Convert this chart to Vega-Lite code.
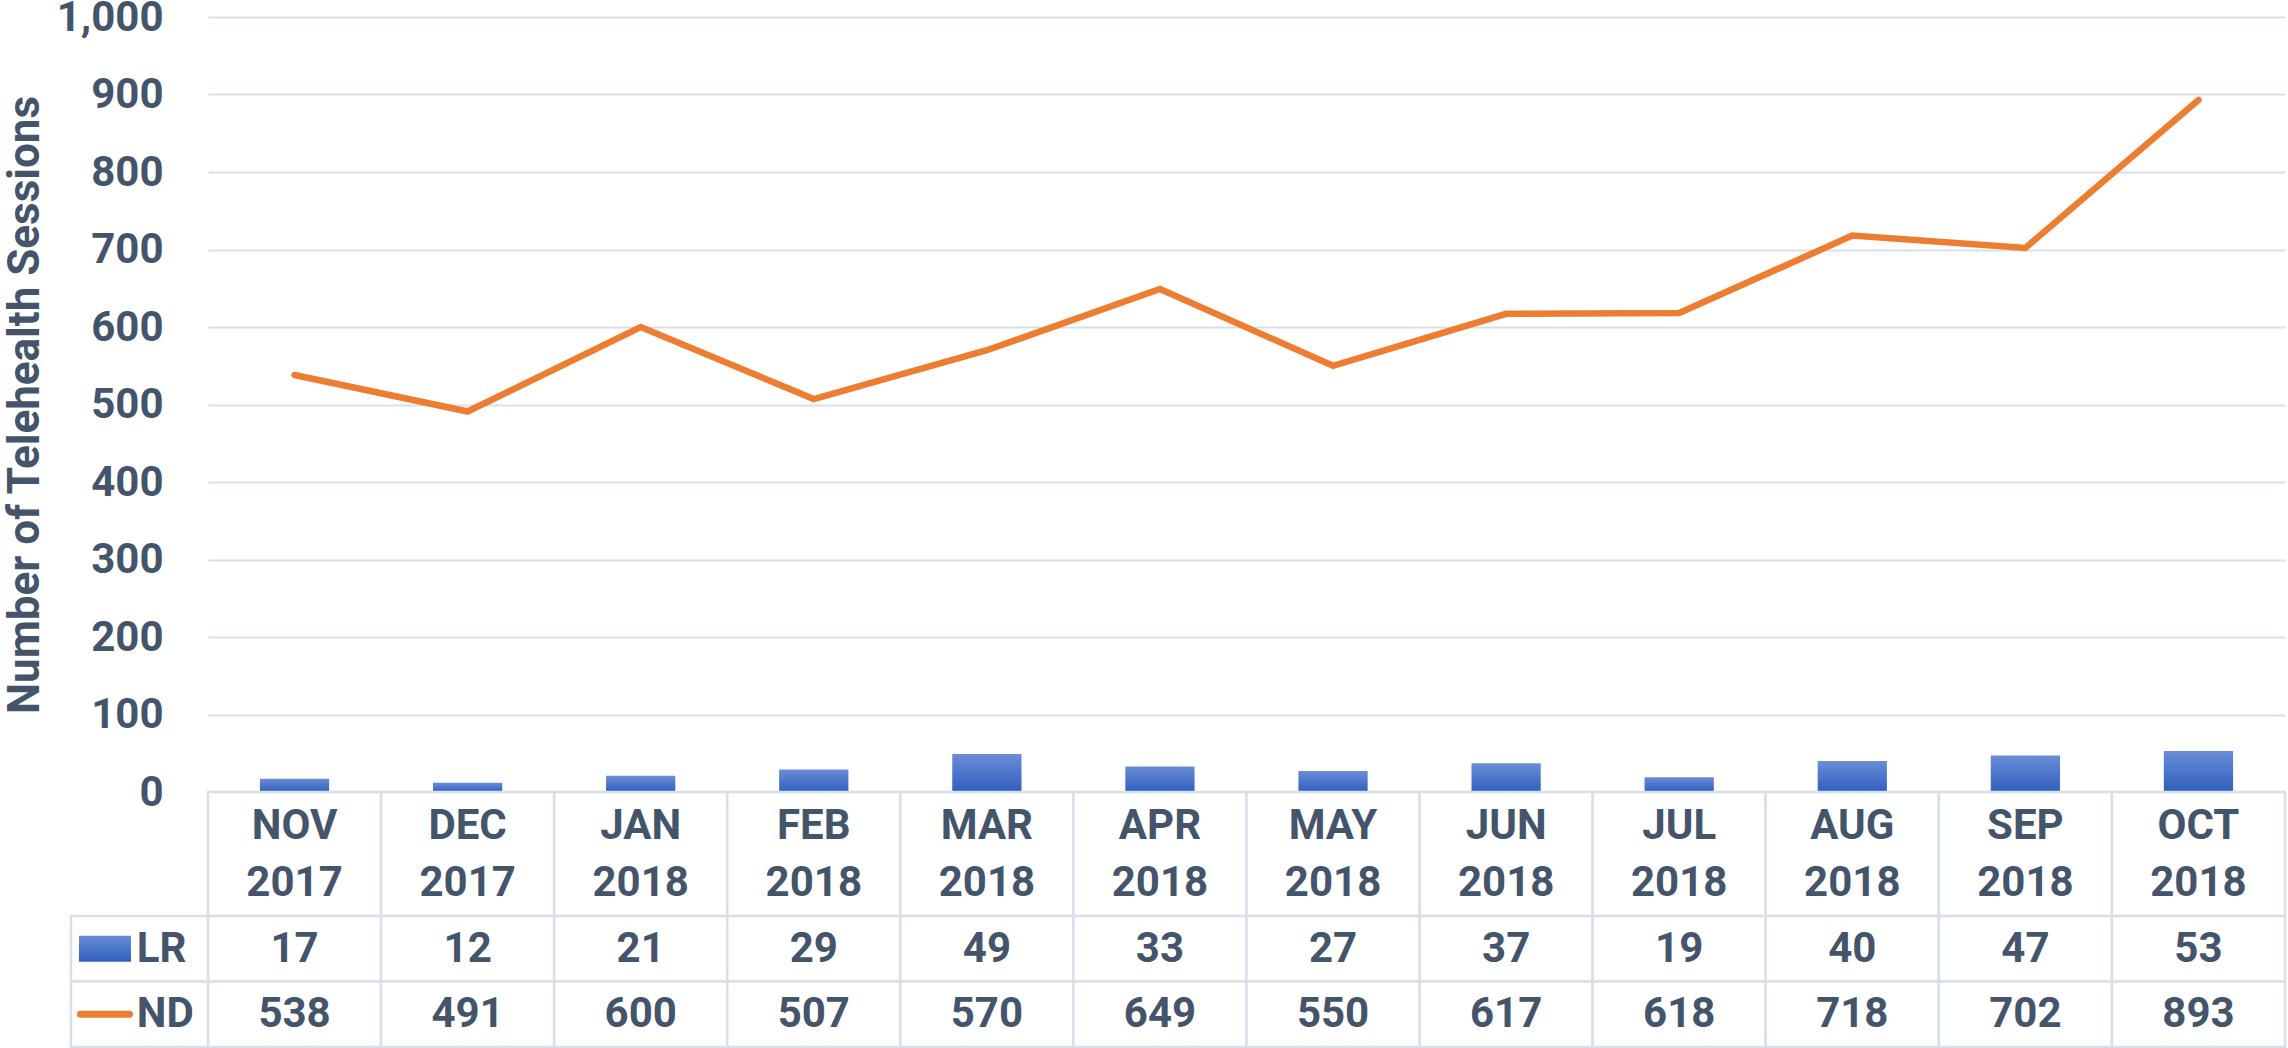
{
  "$schema": "https://vega.github.io/schema/vega-lite/v6.json",
  "background": "white",
  "padding": {"left": 3, "top": -4, "right": 0, "bottom": 0},
  "autosize": {"type": "pad"},
  "spacing": 0,
  "bounds": "flush",
  "config": {"view": {"stroke": null}, "font": "Roboto"},
  "datasets": {
    "sessions": [
      {"month": "NOV 2017", "series": "LR", "value": 17},
      {"month": "DEC 2017", "series": "LR", "value": 12},
      {"month": "JAN 2018", "series": "LR", "value": 21},
      {"month": "FEB 2018", "series": "LR", "value": 29},
      {"month": "MAR 2018", "series": "LR", "value": 49},
      {"month": "APR 2018", "series": "LR", "value": 33},
      {"month": "MAY 2018", "series": "LR", "value": 27},
      {"month": "JUN 2018", "series": "LR", "value": 37},
      {"month": "JUL 2018", "series": "LR", "value": 19},
      {"month": "AUG 2018", "series": "LR", "value": 40},
      {"month": "SEP 2018", "series": "LR", "value": 47},
      {"month": "OCT 2018", "series": "LR", "value": 53},
      {"month": "NOV 2017", "series": "ND", "value": 538},
      {"month": "DEC 2017", "series": "ND", "value": 491},
      {"month": "JAN 2018", "series": "ND", "value": 600},
      {"month": "FEB 2018", "series": "ND", "value": 507},
      {"month": "MAR 2018", "series": "ND", "value": 570},
      {"month": "APR 2018", "series": "ND", "value": 649},
      {"month": "MAY 2018", "series": "ND", "value": 550},
      {"month": "JUN 2018", "series": "ND", "value": 617},
      {"month": "JUL 2018", "series": "ND", "value": 618},
      {"month": "AUG 2018", "series": "ND", "value": 718},
      {"month": "SEP 2018", "series": "ND", "value": 702},
      {"month": "OCT 2018", "series": "ND", "value": 893}
    ]
  },
  "data": {"name": "sessions"},
  "vconcat": [
    {
      "width": 2077,
      "height": 775,
      "layer": [
        {
          "transform": [{"filter": "datum.series === 'LR'"}],
          "mark": {
            "type": "bar",
            "fill": {"gradient": "linear", "x1": 0, "y1": 0, "x2": 0, "y2": 1,
              "stops": [{"offset": 0, "color": "#6B8DD6"}, {"offset": 1, "color": "#2E5FBF"}]}
          },
          "encoding": {
            "x": {"field": "month", "type": "nominal",
              "scale": {"type": "band", "domain": ["NOV 2017","DEC 2017","JAN 2018","FEB 2018","MAR 2018","APR 2018","MAY 2018","JUN 2018","JUL 2018","AUG 2018","SEP 2018","OCT 2018"], "paddingInner": 0.6, "paddingOuter": 0.3},
              "axis": null},
            "y": {"field": "value", "type": "quantitative",
              "scale": {"domain": [0, 1000], "nice": false},
              "axis": {
                "title": "Number of Telehealth Sessions",
                "values": [0, 100, 200, 300, 400, 500, 600, 700, 800, 900, 1000],
                "format": ",d",
                "grid": true, "gridColor": "#D9DFE8", "gridWidth": 2,
                "domain": false, "ticks": false,
                "labelPadding": 45, "labelFont": "Roboto", "labelFontSize": 42, "labelFontWeight": "bold", "labelColor": "#44546A",
                "titleFont": "Roboto", "titleFontSize": 44, "titleFontWeight": "bold", "titleColor": "#44546A", "titlePadding": 9
              }}
          }
        },
        {
          "transform": [{"filter": "datum.series === 'ND'"}],
          "mark": {"type": "line", "stroke": "#ED7D31", "strokeWidth": 6.5, "strokeJoin": "miter", "strokeCap": "round"},
          "encoding": {
            "x": {"field": "month", "type": "nominal"},
            "y": {"field": "value", "type": "quantitative"}
          }
        }
      ]
    },
    {
      "width": 2077,
      "height": 124,
      "transform": [{"filter": "datum.series === 'LR'"}],
      "layer": [
        {
          "mark": {"type": "rect", "fill": "white", "stroke": "#D9DFE8", "strokeWidth": 2.5},
          "encoding": {
            "x": {"field": "month", "type": "nominal",
              "scale": {"type": "band", "domain": ["NOV 2017","DEC 2017","JAN 2018","FEB 2018","MAR 2018","APR 2018","MAY 2018","JUN 2018","JUL 2018","AUG 2018","SEP 2018","OCT 2018"], "paddingInner": 0, "paddingOuter": 0},
              "axis": null}
          }
        },
        {
          "mark": {"type": "text", "lineBreak": " ", "lineHeight": 57, "dy": -28.5, "font": "Roboto", "fontSize": 42, "fontWeight": "bold", "color": "#44546A", "baseline": "middle"},
          "encoding": {
            "x": {"field": "month", "type": "nominal"},
            "text": {"field": "month"}
          }
        }
      ]
    },
    {
      "width": 2077,
      "height": 131,
      "layer": [
        {
          "mark": {"type": "rect", "fill": "white", "stroke": "#D9DFE8", "strokeWidth": 2.5},
          "encoding": {
            "x": {"field": "month", "type": "nominal",
              "scale": {"type": "band", "domain": ["NOV 2017","DEC 2017","JAN 2018","FEB 2018","MAR 2018","APR 2018","MAY 2018","JUN 2018","JUL 2018","AUG 2018","SEP 2018","OCT 2018"], "paddingInner": 0, "paddingOuter": 0},
              "axis": null},
            "y": {"field": "series", "type": "nominal",
              "scale": {"type": "band", "domain": ["LR", "ND"], "paddingInner": 0, "paddingOuter": 0},
              "axis": null}
          }
        },
        {
          "mark": {"type": "text", "font": "Roboto", "fontSize": 42, "fontWeight": "bold", "color": "#44546A", "baseline": "middle"},
          "encoding": {
            "x": {"field": "month", "type": "nominal",
              "scale": {"type": "band", "domain": ["NOV 2017","DEC 2017","JAN 2018","FEB 2018","MAR 2018","APR 2018","MAY 2018","JUN 2018","JUL 2018","AUG 2018","SEP 2018","OCT 2018"], "paddingInner": 0, "paddingOuter": 0},
              "axis": null},
            "y": {"field": "series", "type": "nominal"},
            "text": {"field": "value", "type": "quantitative"}
          }
        },
        {
          "transform": [{"filter": "datum.month === 'NOV 2017'"}],
          "layer": [
            {
              "mark": {"type": "rect", "fill": "white", "stroke": "#D9DFE8", "strokeWidth": 2.5},
              "encoding": {
                "x": {"datum": "k", "type": "nominal",
                  "scale": {"type": "band", "domain": ["k"], "range": [-137, 0], "paddingInner": 0, "paddingOuter": 0},
                  "axis": null},
                "y": {"field": "series", "type": "nominal"}
              }
            },
            {
              "transform": [{"filter": "datum.series === 'LR'"}],
              "mark": {"type": "point", "shape": "M-1,-0.5H1V0.5H-1Z", "size": 2704, "filled": true, "opacity": 1, "strokeWidth": 0,
                "fill": {"gradient": "linear", "x1": 0, "y1": 0, "x2": 0, "y2": 1,
                  "stops": [{"offset": 0, "color": "#6B8DD6"}, {"offset": 1, "color": "#2E5FBF"}]}},
              "encoding": {
                "x": {"datum": "k", "type": "nominal", "bandPosition": 0.248},
                "y": {"field": "series", "type": "nominal"}
              }
            },
            {
              "transform": [{"filter": "datum.series === 'ND'"}],
              "mark": {"type": "point", "shape": "M-1,0H1", "size": 2401, "filled": false, "opacity": 1, "stroke": "#ED7D31", "strokeWidth": 7, "strokeCap": "round"},
              "encoding": {
                "x": {"datum": "k", "type": "nominal", "bandPosition": 0.248},
                "y": {"field": "series", "type": "nominal"}
              }
            },
            {
              "mark": {"type": "text", "align": "left", "font": "Roboto", "fontSize": 42, "fontWeight": "bold", "color": "#44546A", "baseline": "middle"},
              "encoding": {
                "x": {"datum": "k", "type": "nominal", "bandPosition": 0.48},
                "y": {"field": "series", "type": "nominal"},
                "text": {"field": "series"}
              }
            }
          ]
        }
      ],
      "resolve": {"scale": {"x": "independent"}}
    }
  ]
}
